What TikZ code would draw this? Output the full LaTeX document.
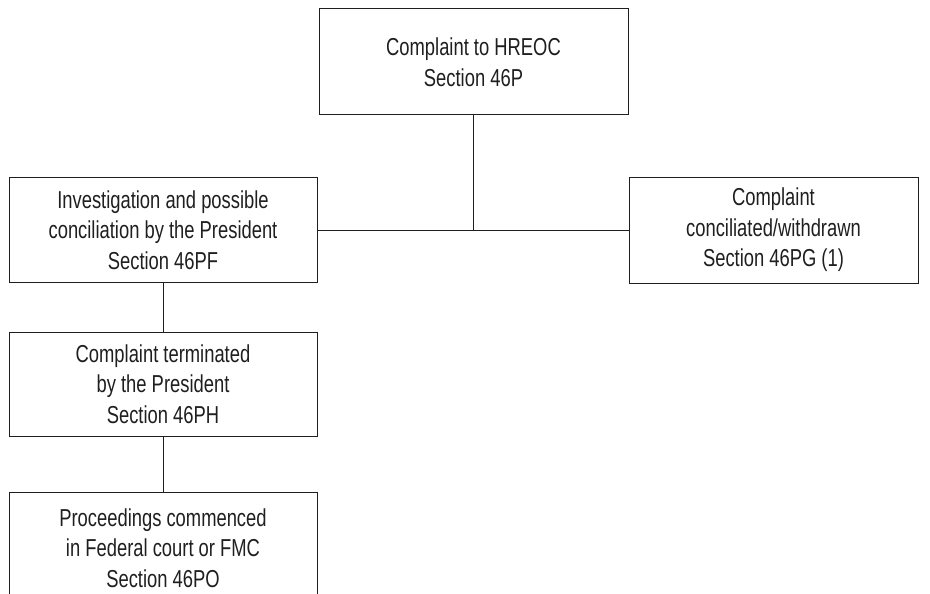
\documentclass[tikz,border=0pt]{standalone}
\usepackage{fontspec}
\setmainfont{Liberation Sans}[FakeStretch=0.75]
\begin{document}
\begin{tikzpicture}[x=1pt,y=-1pt,
  flowbox/.style={draw=black!88, line width=1pt, rectangle, align=center,
    inner sep=0pt, font=\fontsize{24.5}{30.5}\selectfont, text=black!88},
  link/.style={draw=black!88, line width=1pt}]
\useasboundingbox (0,0) rectangle (930,594);
\clip (0,0) rectangle (930,594);
\node[flowbox, minimum width=309pt, minimum height=106pt] (top) at (473.5,62) {Complaint to HREOC\\Section 46P};
\node[flowbox, minimum width=308pt, minimum height=105pt] (inv) at (163,230) {Investigation and possible\\conciliation by the President\\Section 46PF};
\node[flowbox, minimum width=289pt, minimum height=106pt] (con) at (773.5,230) {Complaint\\conciliated/withdrawn\\Section 46PG (1)};
\node[flowbox, minimum width=308pt, minimum height=104pt] (ter) at (163,384) {Complaint terminated\\by the President\\Section 46PH};
\node[flowbox, minimum width=308pt, minimum height=112pt] (pro) at (163,548) {Proceedings commenced\\in Federal court or FMC\\Section 46PO};
\coordinate (j) at (top.south |- inv.east);
\draw[link] (top.south) -- (j);
\draw[link] (inv.east) -- (con.west);
\draw[link] (inv.south) -- (ter.north);
\draw[link] (ter.south) -- (pro.north);
\end{tikzpicture}
\end{document}
